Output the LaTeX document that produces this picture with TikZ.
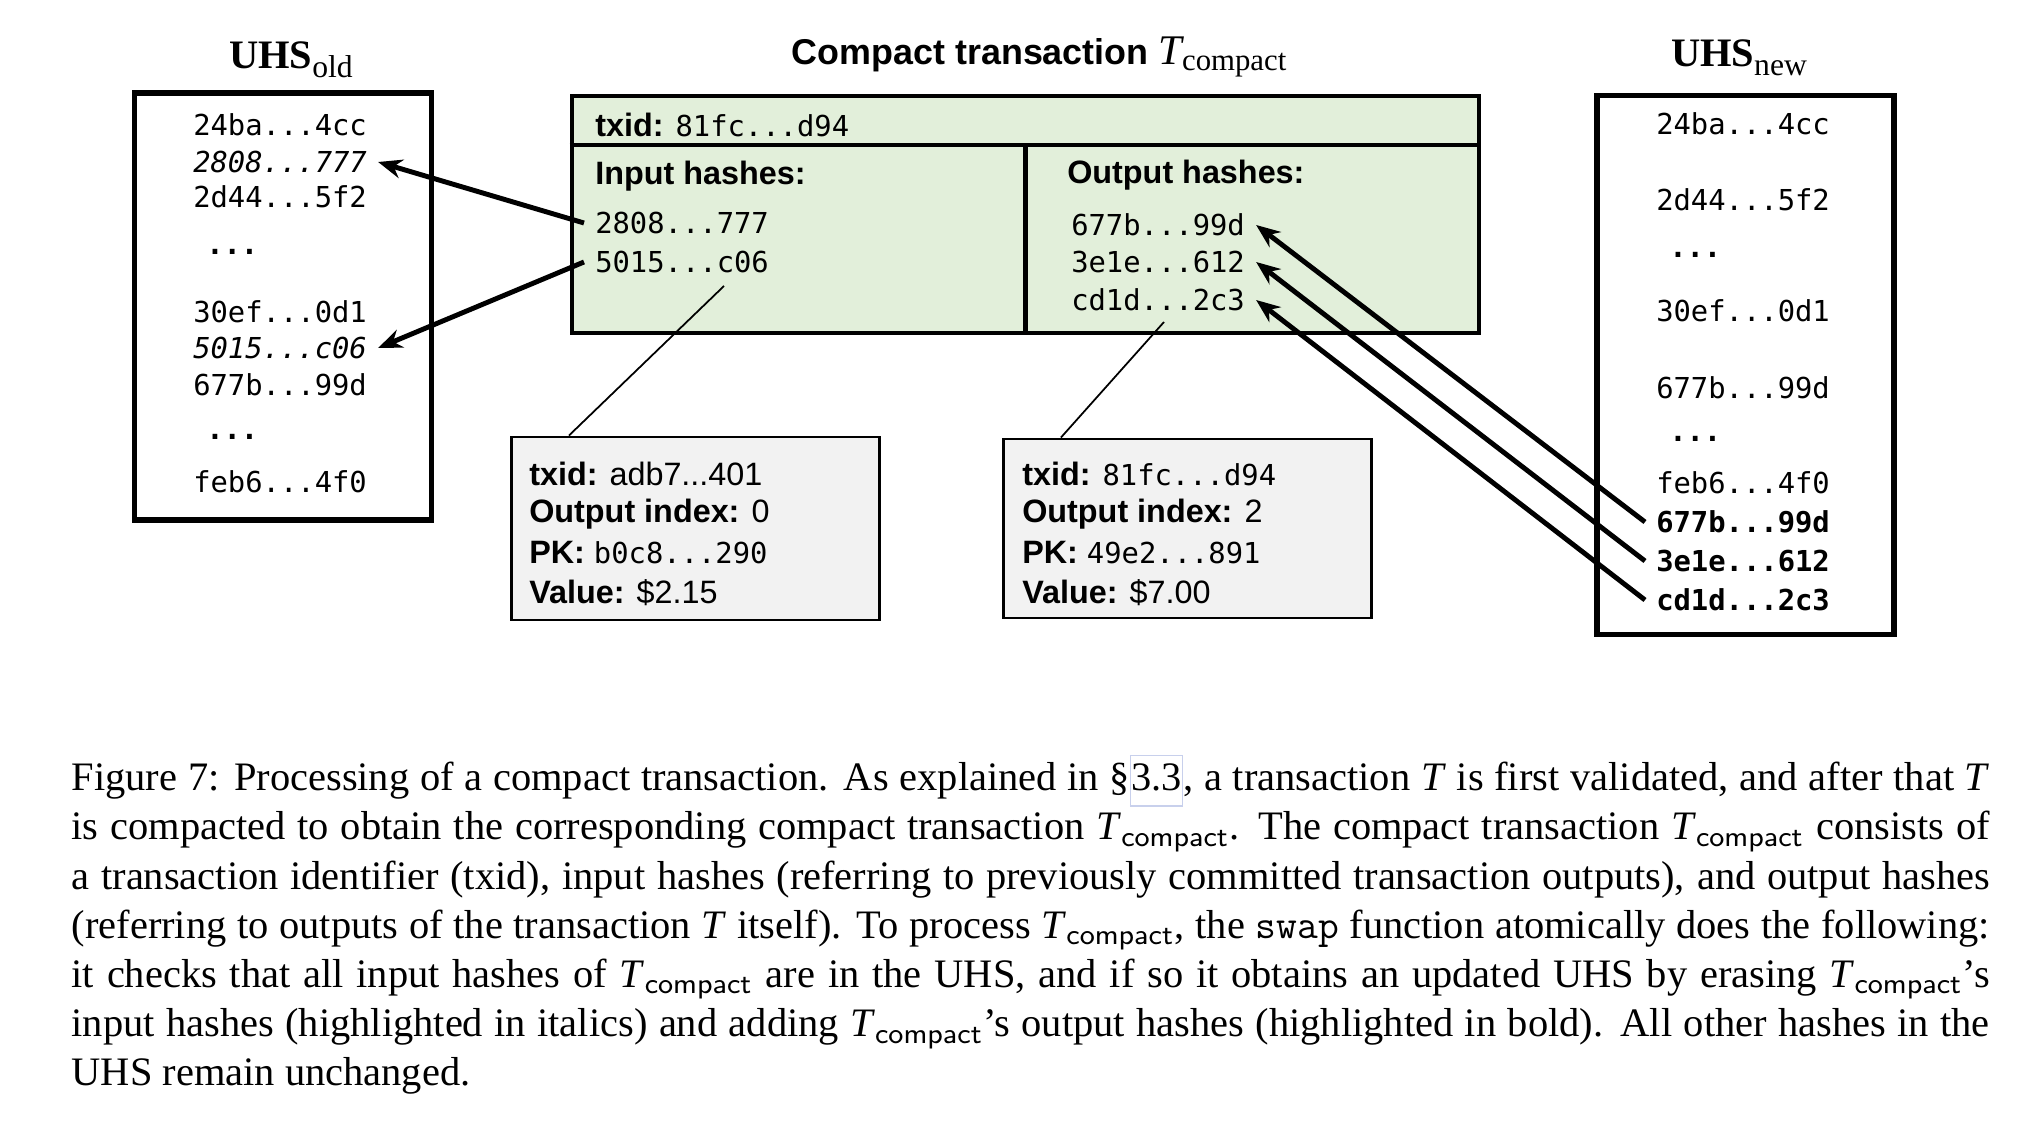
\documentclass[tikz,border=0pt]{standalone}
\usepackage{fontspec}
\setmainfont{Liberation Serif}
\newfontfamily\labelfont{Liberation Sans}
\newfontfamily\hashfont{DejaVu Sans Mono}
\usetikzlibrary{arrows.meta, positioning, calc}

\definecolor{txgreen}{HTML}{E2EFDA}
\definecolor{prevgray}{HTML}{F2F2F2}
\definecolor{linkframe}{HTML}{C8D0EC}

\newcommand{\Tcomp}{\textit{T}\textsubscript{\sffamily compact}}
\newcommand{\lbl}[1]{{\bfseries #1}}
\newcommand{\hsh}[1]{{\hashfont\fontsize{8.2}{10}\selectfont #1}}
\newcommand{\skipdots}{\textbf{...}}
\newcommand{\uhssub}[1]{\raisebox{-2.5pt}{\fontsize{9}{10}\selectfont #1}}
\newcommand{\secref}[1]{{\setlength{\fboxsep}{0pt}\setlength{\fboxrule}{0.4pt}\fcolorbox{linkframe}{white}{\strut #1}}}

\begin{document}
\begin{tikzpicture}[
  x=0.01cm, y=-0.01cm,
  uhs/.style={rectangle, draw, line width=1.5pt, minimum width=2.97cm, inner sep=0pt},
  hash/.style={anchor=west, inner sep=3pt, font=\hashfont\fontsize{8.2}{10}\selectfont},
  field/.style={anchor=west, inner sep=3pt, font=\labelfont\fontsize{9.2}{11}\selectfont},
  title/.style={font=\fontsize{11.5}{14}\selectfont},
  prevbox/.style={rectangle, draw, line width=0.8pt, fill=prevgray, minimum width=3.67cm, minimum height=1.81cm},
  arrow/.style={-{Stealth[length=2.4mm, width=1.9mm]}, line width=1.4pt},
  link/.style={line width=0.5pt}
]
\useasboundingbox (0,0) rectangle (2026,1122);

% UHS before the swap
\node[title] (oldtitle) at (291,60) {\textbf{UHS}\uhssub{old}};
\node[uhs, minimum height=4.27cm] (oldbox) at (283,306.5) {};
\foreach \x/\y/\t [count=\i] in {182/125/{24ba...4cc}, 182/162/{\textit{2808...777}}, 182/197/{2d44...5f2},
  195/252/{\skipdots}, 182/312/{30ef...0d1}, 182/348/{\textit{5015...c06}}, 182/385/{677b...99d},
  195/437/{\skipdots}, 182/482/{feb6...4f0}}
  \node[hash] (old\i) at (\x,\y) {\t};

% compact transaction
\node[font=\labelfont\bfseries\fontsize{10.2}{12}\selectfont] (ctitle) at (1040,57)
  {Compact transaction {\rmfamily\mdseries\fontsize{12}{14}\selectfont\itshape T}{\rmfamily\mdseries\fontsize{12.5}{14}\selectfont\textsubscript{compact}}};
\node[draw, line width=1.2pt, fill=txgreen, minimum width=9.07cm, minimum height=2.37cm] (ctx) at (1025.5,214.5) {};
\draw[line width=1.2pt] ([yshift=-0.51cm]ctx.north west) -- ([yshift=-0.51cm]ctx.north east);
\draw[line width=1.2pt] ([yshift=-0.51cm]ctx.north) -- (ctx.south);

\node[field] (txid) at (584,125) {\lbl{txid:} \hsh{81fc...d94}};
\node[field] (inhead) at (584,176) {\lbl{Input hashes:}};
\node[hash] (in1) at (584,223) {2808...777};
\node[hash] (in2) at (584,262) {5015...c06};
\node[field] (outhead) at (1056,175) {\lbl{Output hashes:}};
\node[hash] (out1) at (1060,225) {677b...99d};
\node[hash] (out2) at (1060,262) {3e1e...612};
\node[hash] (out3) at (1060,300) {cd1d...2c3};

% outputs that are spent / created
\node[prevbox, minimum height=1.83cm] (previn) at (695.5,528.5) {};
\node[field] (pi1) at (518,474) {\lbl{txid:} adb7...401};
\node[field] (pi2) at (518,514) {\lbl{Output index:} 0};
\node[field] (pi3) at (518,553) {\lbl{PK:} \hsh{b0c8...290}};
\node[field] (pi4) at (518,593) {\lbl{Value:} \$2.15};

\node[prevbox, minimum height=1.79cm] (prevout) at (1187.5,528.5) {};
\node[field] (po1) at (1011,474) {\lbl{txid:} \hsh{81fc...d94}};
\node[field] (po2) at (1011,514) {\lbl{Output index:} 2};
\node[field] (po3) at (1011,553) {\lbl{PK:} \hsh{49e2...891}};
\node[field] (po4) at (1011,593) {\lbl{Value:} \$7.00};

\coordinate (inref) at (724,286);
\coordinate (outref) at (1164,322);
\draw[link] (inref) -- ($(previn.north west)!0.158!(previn.north east)$);
\draw[link] (outref) -- ($(prevout.north west)!0.158!(prevout.north east)$);

% UHS after the swap
\node[title] (newtitle) at (1739,58) {\textbf{UHS}\uhssub{new}};
\node[uhs, minimum height=5.38cm] (newbox) at (1745.5,365) {};
\foreach \x/\y/\t [count=\i] in {1645/124/{24ba...4cc}, 1645/200/{2d44...5f2}, 1658/255/{\skipdots},
  1645/311/{30ef...0d1}, 1645/388/{677b...99d}, 1658/439/{\skipdots}, 1645/483/{feb6...4f0},
  1645/522/{\textbf{677b...99d}}, 1645/561/{\textbf{3e1e...612}}, 1645/600/{\textbf{cd1d...2c3}}}
  \node[hash] (new\i) at (\x,\y) {\t};

% erased and added hashes
\draw[arrow] (in1.west) -- (old2.east);
\draw[arrow] (in2.west) -- (old6.east);
\draw[arrow] (new8.west) -- (out1.east);
\draw[arrow] (new9.west) -- (out2.east);
\draw[arrow] (new10.west) -- (out3.east);

% caption
\node[anchor=north west, inner sep=0pt, text width=19.17cm, align=justify, font=\fontsize{11.5}{14}\selectfont] (caption) at (71,754)
  {\noindent\strut Figure 7: Processing of a compact transaction. As explained in \S\secref{3.3}, a transaction \textit{T} is first validated, and after that \textit{T}\linebreak
  is compacted to obtain the corresponding compact transaction \Tcomp. The compact transaction \Tcomp\ consists of\linebreak
  a transaction identifier (txid), input hashes (referring to previously committed transaction outputs), and output hashes\linebreak
  (referring to outputs of the transaction \textit{T} itself). To process \Tcomp, the \texttt{swap} function atomically does the following:\linebreak
  it checks that all input hashes of \Tcomp\ are in the UHS, and if so it obtains an updated UHS by erasing \Tcomp's\linebreak
  input hashes (highlighted in italics) and adding \Tcomp's output hashes (highlighted in bold). All other hashes in the\linebreak
  UHS remain unchanged.};
\end{tikzpicture}
\end{document}
